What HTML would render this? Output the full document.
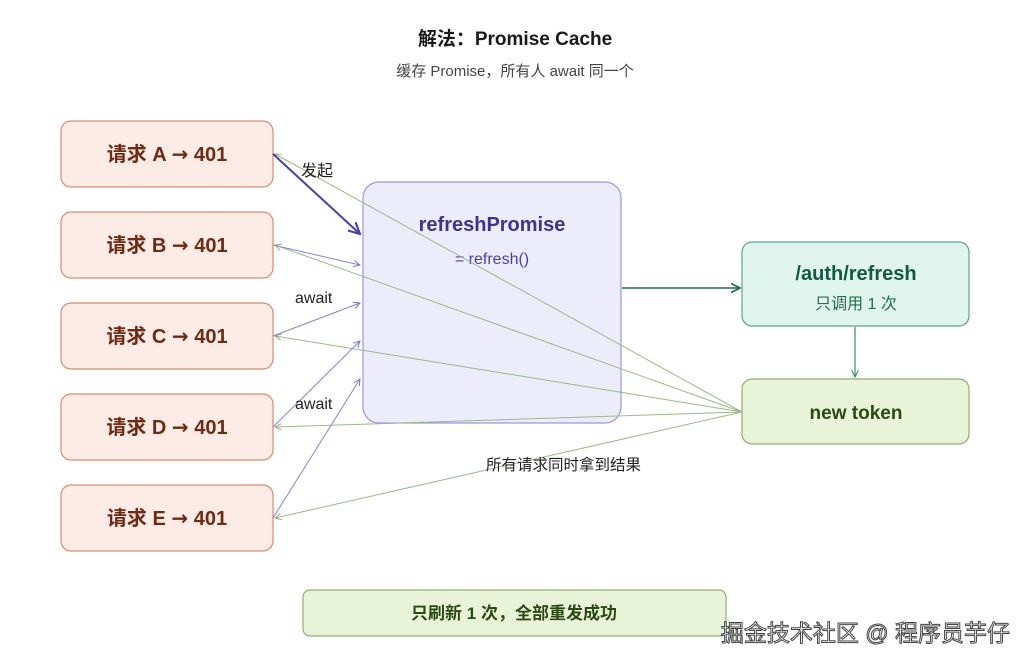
<!DOCTYPE html>
<html><head><meta charset="utf-8"><style>
html,body{margin:0;padding:0;background:#fff;width:1030px;height:666px;overflow:hidden}
svg{display:block;font-family:"Liberation Sans","Noto Sans CJK SC",sans-serif}
</style></head><body>
<svg width="1030" height="666" viewBox="0 0 1030 666" xmlns="http://www.w3.org/2000/svg">
<defs>
<marker id="ap" viewBox="0 0 10 10" refX="9" refY="5" markerWidth="8" markerHeight="8" orient="auto"><path d="M1,1 L9,5 L1,9" fill="none" stroke="#7a6fd0" stroke-width="1.2"/></marker>
<marker id="apd" viewBox="0 0 10 10" refX="9" refY="5" markerWidth="7" markerHeight="7" orient="auto"><path d="M1,1 L9,5 L1,9" fill="none" stroke="#4b3fb0" stroke-width="1.5"/></marker>
<marker id="ag" viewBox="0 0 10 10" refX="9" refY="5" markerWidth="8" markerHeight="8" orient="auto"><path d="M1,1 L9,5 L1,9" fill="none" stroke="#8fae78" stroke-width="1.2"/></marker>
<marker id="agd" viewBox="0 0 10 10" refX="9" refY="5" markerWidth="7" markerHeight="7" orient="auto"><path d="M1,1 L9,5 L1,9" fill="none" stroke="#1f6e4f" stroke-width="1.5"/></marker>
<marker id="at" viewBox="0 0 10 10" refX="9" refY="5" markerWidth="7" markerHeight="7" orient="auto"><path d="M1,1 L9,5 L1,9" fill="none" stroke="#3f8a73" stroke-width="1.3"/></marker>
</defs>

<text x="515" y="45" text-anchor="middle" font-size="19" font-weight="bold" fill="#1a1a1a">解法：Promise Cache</text>
<text x="515" y="76" text-anchor="middle" font-size="15" fill="#444">缓存 Promise，所有人 await 同一个</text>

<g fill="#fdece6" stroke="#d98a6f" stroke-width="1.2">
<rect x="61" y="121" width="212" height="66" rx="10"/>
<rect x="61" y="212" width="212" height="66" rx="10"/>
<rect x="61" y="303" width="212" height="66" rx="10"/>
<rect x="61" y="394" width="212" height="66" rx="10"/>
<rect x="61" y="485" width="212" height="66" rx="10"/>
</g>
<g font-size="20" font-weight="bold" fill="#6e2a12" text-anchor="middle">
<text x="167" y="161">请求 A <tspan font-family="DejaVu Sans">→</tspan> 401</text>
<text x="167" y="252">请求 B <tspan font-family="DejaVu Sans">→</tspan> 401</text>
<text x="167" y="343">请求 C <tspan font-family="DejaVu Sans">→</tspan> 401</text>
<text x="167" y="434">请求 D <tspan font-family="DejaVu Sans">→</tspan> 401</text>
<text x="167" y="525">请求 E <tspan font-family="DejaVu Sans">→</tspan> 401</text>
</g>

<rect x="363" y="182" width="258" height="241" rx="16" fill="#ececfb" stroke="#9d96e0" stroke-width="1.2"/>
<text x="492" y="231" text-anchor="middle" font-size="20" font-weight="bold" fill="#3e3294">refreshPromise</text>
<text x="492" y="264" text-anchor="middle" font-size="16" fill="#4b3fb0">= refresh()</text>

<rect x="742" y="242" width="227" height="84" rx="10" fill="#e0f5ee" stroke="#5aa58a" stroke-width="1.2"/>
<text x="856" y="280" text-anchor="middle" font-size="20" font-weight="bold" fill="#125a44">/auth/refresh</text>
<text x="856" y="309" text-anchor="middle" font-size="16" fill="#1f6e4f">只调用 1 次</text>
<rect x="742" y="379" width="227" height="65" rx="10" fill="#e8f3d8" stroke="#8fb070" stroke-width="1.2"/>
<text x="856" y="419" text-anchor="middle" font-size="19" font-weight="bold" fill="#2b4a12">new token</text>

<g stroke="#9cb888" stroke-width="1" marker-end="url(#ag)" fill="none">
<line x1="742" y1="412" x2="275" y2="154"/>
<line x1="742" y1="412" x2="275" y2="245"/>
<line x1="742" y1="412" x2="275" y2="336"/>
<line x1="742" y1="412" x2="275" y2="427"/>
<line x1="742" y1="412" x2="275" y2="518"/>
</g>
<line x1="273" y1="154" x2="360" y2="234" stroke="#4b3fb0" stroke-width="2" marker-end="url(#apd)"/>
<g stroke="#8a80dc" stroke-width="1" marker-end="url(#ap)">
<line x1="273" y1="245" x2="360" y2="265"/>
<line x1="273" y1="336" x2="360" y2="303"/>
<line x1="273" y1="427" x2="360" y2="341"/>
<line x1="273" y1="518" x2="360" y2="379"/>
</g>
<line x1="622" y1="288" x2="740" y2="288" stroke="#1f6e4f" stroke-width="1.6" marker-end="url(#agd)"/>
<line x1="855" y1="327" x2="855" y2="377" stroke="#3f8a73" stroke-width="1.2" marker-end="url(#at)"/>

<g font-size="16" fill="#222">
<text x="301" y="176">发起</text>
<text x="295" y="303">await</text>
<text x="295" y="409">await</text>
<text x="486" y="470" font-size="15.5">所有请求同时拿到结果</text>
</g>

<rect x="303" y="590" width="423" height="46" rx="7" fill="#e8f3d8" stroke="#8fb070" stroke-width="1.2"/>
<text x="514" y="619" text-anchor="middle" font-size="17" font-weight="bold" fill="#2b4a12">只刷新 1 次，全部重发成功</text>

<text x="1010" y="641" text-anchor="end" font-size="23" fill="#fff" stroke="#444" stroke-width="1">掘金技术社区 @ 程序员芋仔</text>
</svg>
</body></html>
